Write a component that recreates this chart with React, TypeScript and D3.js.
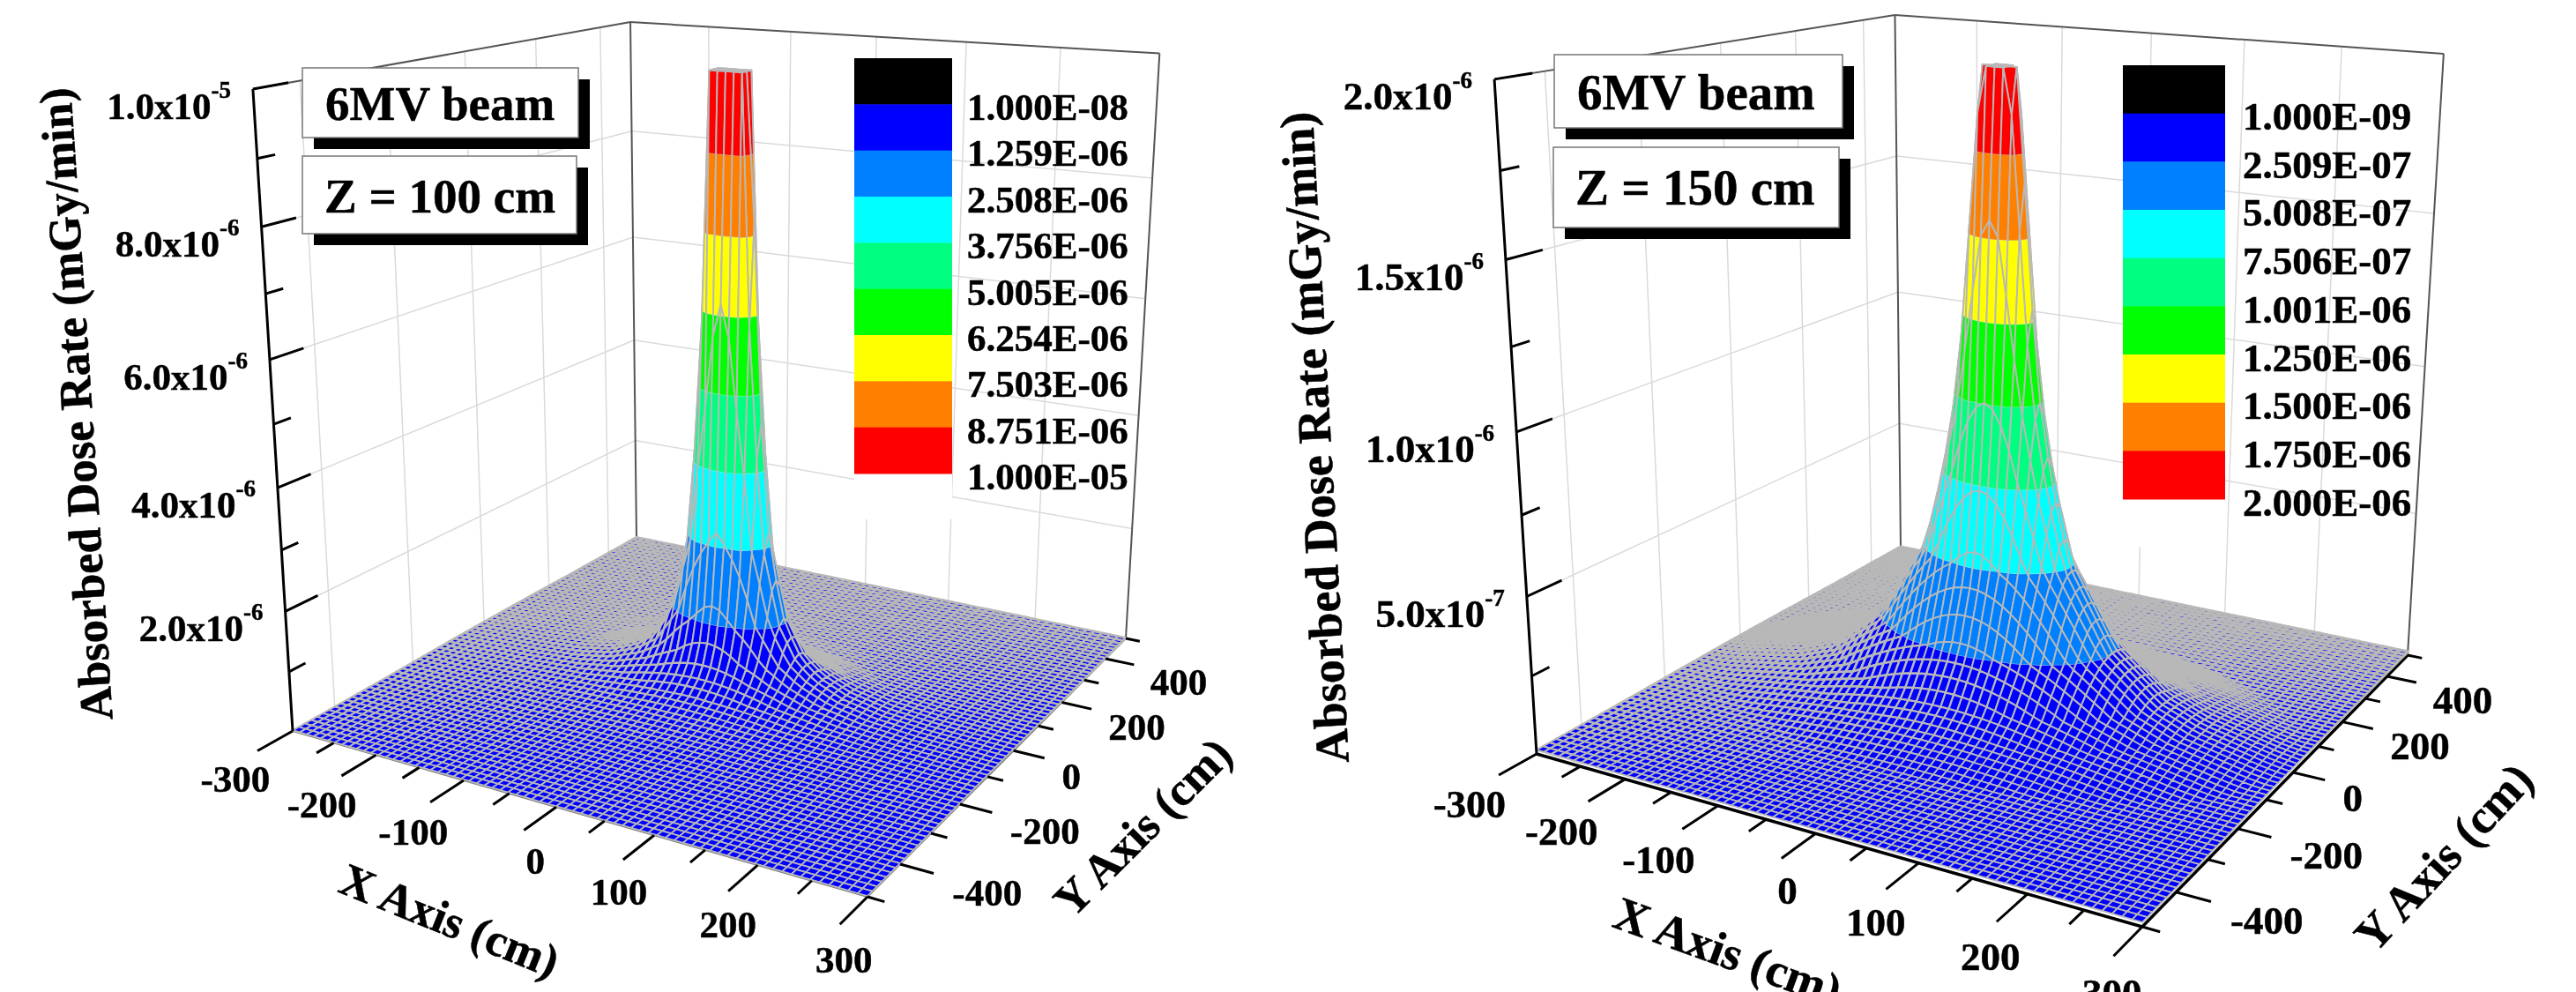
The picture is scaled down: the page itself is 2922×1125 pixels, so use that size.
import React, { useEffect, useRef } from "react";
import * as d3 from "d3";

// axis ticks shared by both plots
const xMajor = [-300, -200, -100, 0, 100, 200, 300];
const xMinor = [-250, -150, -50, 50, 150, 250];
const yMajor = [-400, -200, 0, 200, 400];
const yMinor = [-500, -300, -100, 100, 300, 500];

const bandColors = ["#0000ff", "#0080ff", "#00ffff", "#00ff80", "#00ff00", "#ffff00", "#ff8000", "#ff0000"];
const swatchColors = ["#000000", ...bandColors];

// Z = 100 cm
const levels100 = [1.0e-8, 1.259e-6, 2.508e-6, 3.756e-6, 5.005e-6, 6.254e-6, 7.503e-6, 8.751e-6, 1.0e-5];
const legend100 = ["1.000E-08", "1.259E-06", "2.508E-06", "3.756E-06", "5.005E-06", "6.254E-06", "7.503E-06", "8.751E-06", "1.000E-05"];
const zMajor100 = [2e-6, 4e-6, 6e-6, 8e-6, 1e-5];
const zLabels100 = [["2.0", "-6"], ["4.0", "-6"], ["6.0", "-6"], ["8.0", "-6"], ["1.0", "-5"]];
const zMinor100 = [1e-6, 3e-6, 5e-6, 7e-6, 9e-6];
// dose against distance from the beam axis
const radius100 = [0, 23, 24, 26, 29, 32, 38, 44, 61, 80, 100, 130, 170, 220, 300, 400, 620];
const dose100 = [1e-5, 1e-5, 8.75e-6, 7.5e-6, 6.25e-6, 5e-6, 3.75e-6, 2.5e-6, 1.26e-6, 7e-7, 4.5e-7, 2.5e-7, 1.3e-7, 7e-8, 3e-8, 1.5e-8, 1e-8];

// Z = 150 cm
const levels150 = [1.0e-9, 2.509e-7, 5.008e-7, 7.506e-7, 1.001e-6, 1.25e-6, 1.5e-6, 1.75e-6, 2.0e-6];
const legend150 = ["1.000E-09", "2.509E-07", "5.008E-07", "7.506E-07", "1.001E-06", "1.250E-06", "1.500E-06", "1.750E-06", "2.000E-06"];
const zMajor150 = [5e-7, 1e-6, 1.5e-6, 2e-6];
const zLabels150 = [["5.0", "-7"], ["1.0", "-6"], ["1.5", "-6"], ["2.0", "-6"]];
const zMinor150 = [2.5e-7, 7.5e-7, 1.25e-6, 1.75e-6];
const radius150 = [0, 21, 23.4, 30, 35, 43, 56, 75, 120, 170, 210, 280, 300, 400, 640];
const dose150 = [2e-6, 2e-6, 1.75e-6, 1.5e-6, 1.25e-6, 1e-6, 7.5e-7, 5e-7, 2.5e-7, 1.2e-7, 7e-8, 2.5e-8, 1.6e-8, 1.3e-8, 1.3e-8];

const panels = [
  {
    beam: "6MV beam", plane: "Z = 100 cm", levels: levels100, legend: legend100,
    zMajor: zMajor100, zLabels: zLabels100, zMinor: zMinor100, radius: radius100, dose: dose100,
    L: [332, 829], F: [984, 1017], R: [1277, 724], B: [722, 610],
    Lt: [286, 97], Rt: [1315, 63], Bt: [716, 26],
    edge: "#808080", edgeWidth: 2, tickFont: 43, titleFont: 52.5, xLabelDx: 33, xLabelDy: 43, backStroke: 2.9,
    box1: [343, 77, 313, 79], box2: [343, 177, 311, 88], text1: [369, 136], text2: [368, 241], boxFont: 55,
    bar: [969, 66, 111, 471], mask: 52, legendText: [1097, 136], legendStep: 52.4, legendFont: 43,
    zTitle: [92, 458, -93.8], xTitle: [508, 1049, 22], yTitle: [1300, 942, -45],
  },
  {
    beam: "6MV beam", plane: "Z = 150 cm", levels: levels150, legend: legend150,
    zMajor: zMajor150, zLabels: zLabels150, zMinor: zMinor150, radius: radius150, dose: dose150,
    L: [1743, 855], F: [2430, 1051], R: [2731, 743], B: [2156, 624],
    Lt: [1697, 93], Rt: [2773, 57], Bt: [2147, 18],
    edge: "#000000", edgeWidth: 3.5, tickFont: 45, titleFont: 54, xLabelDx: 28, xLabelDy: 44, backStroke: 3.6,
    box1: [1763, 62, 327, 83], box2: [1762, 167, 324, 91], text1: [1789, 124], text2: [1787, 232], boxFont: 57,
    bar: [2408, 74, 116, 492], mask: 54, legendText: [2544, 147], legendStep: 54.7, legendFont: 45,
    zTitle: [1497, 496, -93.2], xTitle: [1958, 1085, 20], yTitle: [2776, 976, -47],
  },
];

const SERIF = "'Liberation Serif', 'Times New Roman', serif";
const NX = 70;
const NY = 70;
const MESH = "#b8b8b8";

// perspective camera fitted to the corners of the box
function makeProjection(p: any) {
  const [x0, y0] = p.L, [x1, y1] = p.F, [x2, y2] = p.R, [x3, y3] = p.B;
  const dx1 = x1 - x2, dx2 = x3 - x2, sx = x0 - x1 + x2 - x3;
  const dy1 = y1 - y2, dy2 = y3 - y2, sy = y0 - y1 + y2 - y3;
  const den = dx1 * dy2 - dx2 * dy1;
  const g = (sx * dy2 - dx2 * sy) / den;
  const h = (dx1 * sy - sx * dy1) / den;
  const a = x1 - x0 + g * x1, b = x3 - x0 + h * x3, c = x0;
  const d = y1 - y0 + g * y1, e = y3 - y0 + h * y3, f = y0;

  const fit = [
    { u: 0, v: 0, t: p.Lt },
    { u: 1, v: 1, t: p.Rt },
    { u: 0, v: 1, t: p.Bt },
  ].map((o) => {
    const w = g * o.u + h * o.v + 1;
    return {
      X: o.t[0], Y: o.t[1],
      rx: o.t[0] * w - (a * o.u + b * o.v + c),
      ry: o.t[1] * w - (d * o.u + e * o.v + f),
    };
  });
  const mX = d3.mean(fit, (o) => o.X)!, mY = d3.mean(fit, (o) => o.Y)!;
  const mrx = d3.mean(fit, (o) => o.rx)!, mry = d3.mean(fit, (o) => o.ry)!;
  const pc = -d3.sum(fit, (o) => (o.X - mX) * (o.rx - mrx) + (o.Y - mY) * (o.ry - mry)) /
    d3.sum(fit, (o) => (o.X - mX) ** 2 + (o.Y - mY) ** 2);
  const pa = mrx + mX * pc, pb = mry + mY * pc;

  const ux = d3.scaleLinear().domain([-300, 300]).range([0, 1]);
  const uy = d3.scaleLinear().domain([-500, 500]).range([0, 1]);
  const uz = d3.scaleLinear().domain([0, p.levels[8]]).range([0, 1]);
  return (x: number, y: number, z: number): [number, number] => {
    const u = ux(x), v = uy(y), t = uz(z);
    const w = g * u + h * v + 1 + pc * t;
    return [(a * u + b * v + c + pa * t) / w, (d * u + e * v + f + pb * t) / w];
  };
}

function clip(poly: number[][], level: number, keepAbove: boolean) {
  const out: number[][] = [];
  poly.forEach((p, i) => {
    const q = poly[(i + 1) % poly.length];
    const pin = keepAbove ? p[2] >= level : p[2] <= level;
    const qin = keepAbove ? q[2] >= level : q[2] <= level;
    if (pin) out.push(p);
    if (pin !== qin) {
      const t = (level - p[2]) / (q[2] - p[2]);
      out.push([p[0] + t * (q[0] - p[0]), p[1] + t * (q[1] - p[1]), level]);
    }
  });
  return out;
}

function drawPanel(root: any, p: any) {
  const project = makeProjection(p);
  const g = root.append("g");
  const seg = (a: number[], b: number[], stroke: string, width: number) =>
    g.append("line").attr("x1", a[0]).attr("y1", a[1]).attr("x2", b[0]).attr("y2", b[1])
      .attr("stroke", stroke).attr("stroke-width", width);
  const zTop = p.levels[8];

  // wall grid
  const grid = "#dadada";
  p.zMajor.slice(0, -1).forEach((z: number) => {
    seg(project(-300, -500, z), project(-300, 500, z), grid, 1.5);
    seg(project(-300, 500, z), project(300, 500, z), grid, 1.5);
  });
  yMajor.forEach((y) => seg(project(-300, y, 0), project(-300, y, zTop), grid, 1.5));
  xMajor.slice(1, -1).forEach((x) => seg(project(x, 500, 0), project(x, 500, zTop), grid, 1.5));

  // wall frame
  seg(project(-300, -500, zTop), project(-300, 500, zTop), "#555", 2);
  seg(project(-300, 500, zTop), project(300, 500, zTop), "#555", 2);
  seg(project(-300, 500, 0), project(-300, 500, zTop), "#555", 2);
  seg(project(300, 500, 0), project(300, 500, zTop), "#555", 2);

  // floor edges
  seg(project(-300, -500, 0), project(300, -500, 0), p.edge, p.edgeWidth);
  seg(project(300, -500, 0), project(300, 500, 0), p.edge, p.edgeWidth);

  // surface, painted back to front
  const doseAt = d3.scaleLinear().domain(p.radius).range(p.dose).clamp(true);
  const xs = d3.range(NX + 1).map(d3.scaleLinear().domain([0, NX]).range([-300, 300]));
  const ys = d3.range(NY + 1).map(d3.scaleLinear().domain([0, NY]).range([-500, 500]));
  const node = (x: number, y: number) => [x, y, doseAt(Math.hypot(x, y))];
  const outline = d3.line().curve(d3.curveLinearClosed);
  const toPath = (poly: number[][]) => outline(poly.map((q) => project(q[0], q[1], q[2])))!;
  const bandIndex = d3.scaleThreshold<number, number>().domain(p.levels.slice(1, 8)).range(d3.range(8));
  // the mesh reads heavier toward the far corner of the floor
  const meshWidth = d3.scaleLinear().domain([-300, 300]).range([1.8, p.backStroke]).clamp(true);
  const surface = g.append("g").attr("fill", "none").attr("stroke-linejoin", "round");
  for (let j = NY - 1; j >= 0; j--) {
    for (let i = 0; i < NX; i++) {
      const cell = [node(xs[i], ys[j]), node(xs[i + 1], ys[j]), node(xs[i + 1], ys[j + 1]), node(xs[i], ys[j + 1])];
      const lo = d3.min(cell, (q) => q[2])!, hi = d3.max(cell, (q) => q[2])!;
      const first = bandIndex(lo), last = hi >= zTop ? 7 : bandIndex(hi);
      const d = toPath(cell);
      const width = lo > p.levels[1] ? 1.9 : meshWidth(ys[j] - xs[i]);
      if (first === last) {
        surface.append("path").attr("d", d).attr("fill", bandColors[first]).attr("stroke", MESH).attr("stroke-width", width);
      } else {
        for (let k = first; k <= last; k++) {
          let poly = k > 0 ? clip(cell, p.levels[k], true) : cell;
          if (k < 7) poly = clip(poly, p.levels[k + 1], false);
          if (poly.length > 2) {
            surface.append("path").attr("d", toPath(poly)).attr("fill", bandColors[k])
              .attr("stroke", bandColors[k]).attr("stroke-width", 0.5);
            // pale contour line along the top of the band
            if (k < 7) {
              const top = poly.filter((q) => q[2] === p.levels[k + 1]);
              if (top.length === 2) {
                surface.append("path").attr("d", toPath(top)).attr("stroke", "#c4e4f4").attr("stroke-width", 1.2);
              }
            }
          }
        }
        surface.append("path").attr("d", d).attr("stroke", MESH).attr("stroke-width", 1.9);
      }
    }
  }

  // dose axis
  seg(project(-300, -500, 0), project(-300, -500, zTop), "#000", 3);
  p.zMajor.forEach((z: number, i: number) => {
    const a = project(-300, -500, z);
    seg(a, project(-300, -425, z), "#000", 3);
    const t = g.append("text").attr("x", a[0] - 25).attr("y", a[1] + 34).attr("text-anchor", "end")
      .attr("font-size", p.tickFont).attr("font-weight", "bold");
    t.append("tspan").text(`${p.zLabels[i][0]}x10`);
    t.append("tspan").attr("dy", -24).attr("font-size", 27).text(p.zLabels[i][1]);
  });
  p.zMinor.forEach((z: number) => seg(project(-300, -500, z), project(-300, -462, z), "#000", 3));

  // floor ticks
  xMajor.forEach((x) => {
    seg(project(x, -500, 0), project(x, -580, 0), "#000", 3);
    const a = project(x * 1.03, -600, 0);
    g.append("text").attr("x", a[0] + p.xLabelDx).attr("y", a[1] + p.xLabelDy).attr("text-anchor", "end")
      .attr("font-size", p.tickFont).attr("font-weight", "bold").text(x);
  });
  xMinor.forEach((x) => seg(project(x, -500, 0), project(x, -540, 0), "#000", 3));
  yMajor.forEach((y) => {
    seg(project(300, y, 0), project(330, y, 0), "#000", 3);
    const a = project(345, y, 0);
    g.append("text").attr("x", a[0] + 2).attr("y", a[1] + 31).attr("text-anchor", "start")
      .attr("font-size", p.tickFont).attr("font-weight", "bold").text(y);
  });
  yMinor.forEach((y) => seg(project(300, y, 0), project(315, y, 0), "#000", 3));

  // axis titles
  const title = (pos: number[], label: string) =>
    g.append("text").attr("transform", `translate(${pos[0]},${pos[1]}) rotate(${pos[2]})`)
      .attr("text-anchor", "middle").attr("dominant-baseline", "middle")
      .attr("font-size", p.titleFont).attr("font-weight", "bold").text(label);
  title(p.zTitle, "Absorbed Dose Rate (mGy/min)");
  title(p.xTitle, "X Axis (cm)");
  title(p.yTitle, "Y Axis (cm)");

  // colour legend
  const [bx, by, bw, bh] = p.bar;
  g.append("rect").attr("x", bx).attr("y", by + bh).attr("width", bw).attr("height", p.mask).attr("fill", "#fff");
  const band = d3.scaleBand<number>().domain(d3.range(9)).range([by, by + bh]);
  swatchColors.forEach((c, i) => {
    g.append("rect").attr("x", bx).attr("y", band(i)!).attr("width", bw).attr("height", band.bandwidth() + 0.5).attr("fill", c);
  });
  p.legend.forEach((s: string, i: number) => {
    g.append("text").attr("x", p.legendText[0]).attr("y", p.legendText[1] + i * p.legendStep)
      .attr("font-size", p.legendFont).attr("font-weight", "bold").text(s);
  });

  // note boxes
  [[p.box1, p.text1, p.beam], [p.box2, p.text2, p.plane]].forEach(([box, txt, label]: any) => {
    const [x, y, w, h] = box;
    g.append("rect").attr("x", x + 13).attr("y", y + 13).attr("width", w).attr("height", h).attr("fill", "#000");
    g.append("rect").attr("x", x).attr("y", y).attr("width", w).attr("height", h)
      .attr("fill", "#fff").attr("stroke", "#777").attr("stroke-width", 1.5);
    g.append("text").attr("x", txt[0]).attr("y", txt[1]).attr("font-size", p.boxFont).attr("font-weight", "bold").text(label);
  });

  g.selectAll("text").attr("stroke", "#000").attr("stroke-width", 0.5);
}

export default function App() {
  const ref = useRef<SVGSVGElement>(null);
  useEffect(() => {
    const svg = d3.select(ref.current);
    svg.selectAll("*").remove();
    panels.forEach((p) => drawPanel(svg, p));
  }, []);
  return (
    <svg
      ref={ref}
      width={2922}
      height={1125}
      fontFamily={SERIF}
      style={{ position: "absolute", left: 0, top: 0, background: "#fff", filter: "blur(0.7px)" }}
    />
  );
}
